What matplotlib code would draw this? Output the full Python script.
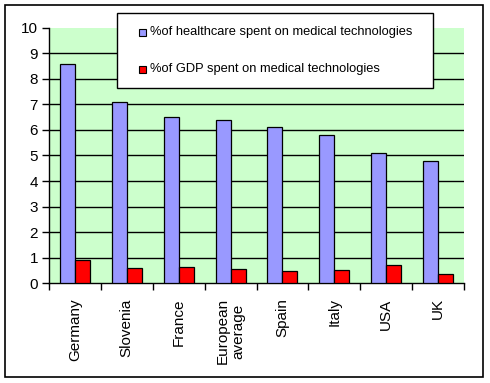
import matplotlib.pyplot as plt
import numpy as np
from matplotlib.patches import Rectangle

plt.rcParams['font.family'] = ['Liberation Sans', 'DejaVu Sans']

# data
countries = ['Germany', 'Slovenia', 'France', 'European\naverage', 'Spain',
             'Italy', 'USA', 'UK']
healthcare = [8.6, 7.1, 6.5, 6.4, 6.1, 5.8, 5.1, 4.8]
gdp = [0.9, 0.6, 0.63, 0.55, 0.47, 0.5, 0.7, 0.34]
labels = ['%of healthcare spent on medical technologies',
          '%of GDP spent on medical technologies']

blueColor = '#9999FF'
redColor = '#FF0000'
bgColor = '#CCFFCC'

W, H = 490, 383
fig = plt.figure(figsize=(4.9, 3.83), dpi=100)
ax = fig.add_axes([0.1, 0.261, 0.847, 0.666])
ax.set_facecolor(bgColor)


def px(x0, y0, w, h):
    # pixel box (top-left origin) -> figure fraction rect
    return (x0 / W, 1 - (y0 + h) / H), w / W, h / H


# outer border
xy, ww, hh = px(5, 5, 478, 372)
fig.patches.append(Rectangle(xy, ww, hh, transform=fig.transFigure,
                             fill=False, edgecolor='black', linewidth=1.2))

x = np.arange(len(countries))
w = 0.29
ax.bar(x - w/2, healthcare, w, color=blueColor, edgecolor='black', linewidth=0.9, zorder=3)
ax.bar(x + w/2, gdp, w, color=redColor, edgecolor='black', linewidth=0.9, zorder=3)

ax.set_xlim(-0.5, len(countries) - 0.5)
ax.set_ylim(0, 10)
ax.set_yticks(range(0, 11))
for v in range(1, 10):
    ax.axhline(v, color='black', linewidth=1, zorder=1)

ax.set_xticks(x)
ax.set_xticklabels(countries, rotation=90, fontsize=11, va='top', ha='center',
                   multialignment='center')
ax.set_xticks(np.arange(-0.5, len(countries)), minor=True)
ax.tick_params(axis='x', which='major', length=0, pad=11)
ax.tick_params(axis='x', which='minor', length=5, width=1, direction='out')
ax.tick_params(axis='y', length=5, width=1, labelsize=11, pad=3)

for s in ['top', 'right']:
    ax.spines[s].set_visible(False)
for s in ['left', 'bottom']:
    ax.spines[s].set_linewidth(1)

# legend box drawn by hand
xy, ww, hh = px(117, 13, 316, 75)
fig.patches.append(Rectangle(xy, ww, hh, transform=fig.transFigure, facecolor='white',
                             edgecolor='black', linewidth=1, zorder=5))
for lab, col, yc in zip(labels, [blueColor, redColor], [32, 69]):
    xy, ww, hh = px(139, yc - 3.5, 7, 7)
    fig.patches.append(Rectangle(xy, ww, hh, transform=fig.transFigure, facecolor=col,
                                 edgecolor='black', linewidth=0.8, zorder=6))
    fig.text(150 / W, 1 - yc / H, lab, fontsize=9.3, va='center', ha='left', zorder=7)

plt.savefig('out.png', dpi=100)
